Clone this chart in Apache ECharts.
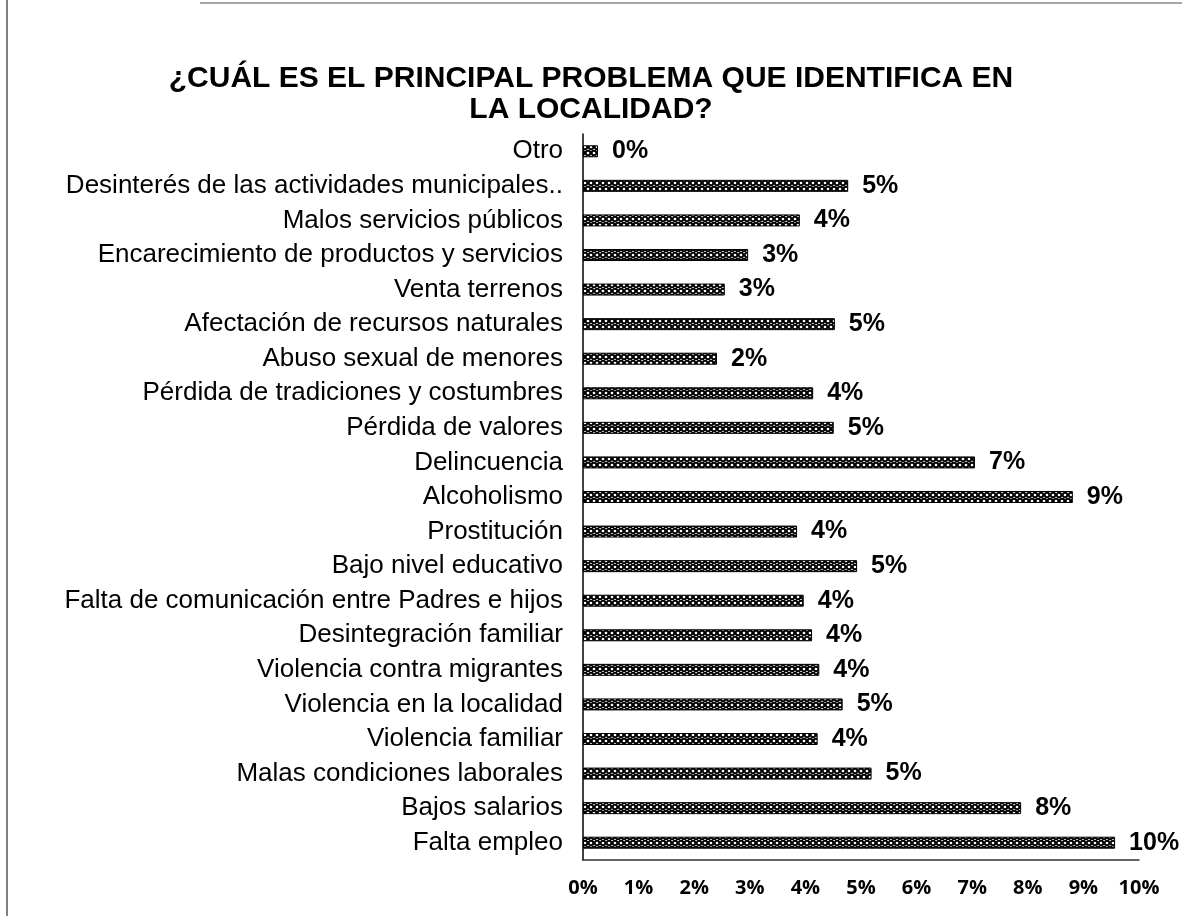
<!DOCTYPE html>
<html>
<head>
<meta charset="utf-8">
<title>Principal problema en la localidad</title>
<script src="https://cdn.jsdelivr.net/npm/echarts@6/dist/echarts.min.js"></script>
<style>
  html, body { margin: 0; padding: 0; background: #fff; }
  #main { width: 1182px; height: 916px; }
</style>
</head>
<body>
<div id="main"></div>
<script>
// categorias de arriba hacia abajo
var problemas = [
  "Otro",
  "Desinterés de las actividades municipales..",
  "Malos servicios públicos",
  "Encarecimiento de productos y servicios",
  "Venta terrenos",
  "Afectación de recursos naturales",
  "Abuso sexual de menores",
  "Pérdida de tradiciones y costumbres",
  "Pérdida de valores",
  "Delincuencia",
  "Alcoholismo",
  "Prostitución",
  "Bajo nivel educativo",
  "Falta de comunicación entre Padres e hijos",
  "Desintegración familiar",
  "Violencia contra migrantes",
  "Violencia en la localidad",
  "Violencia familiar",
  "Malas condiciones laborales",
  "Bajos salarios",
  "Falta empleo"
];
// porcentajes
var porcentajes = [0.27, 4.77, 3.90, 2.97, 2.55, 4.53, 2.41, 4.14, 4.51, 7.05, 8.81,
                   3.85, 4.93, 3.97, 4.12, 4.25, 4.67, 4.22, 5.19, 7.88, 9.57];
var ejeMin = 0;
var ejeMax = 10;
var ejeIntervalo = 1;

// trama tipo cadena para las barras
function makePattern () {
  var c = document.createElement("canvas");
  c.width = 6;
  c.height = 12;
  var ctx = c.getContext("2d");
  ctx.fillStyle = "#fff";
  ctx.fillRect(0, 0, 6, 12);
  ctx.strokeStyle = "#000";
  ctx.lineWidth = 1.9;
  [[3, 3], [0, 9], [6, 9]].forEach(function (p) {
    ctx.beginPath();
    ctx.arc(p[0], p[1], 2.3, 0, Math.PI * 2);
    ctx.stroke();
  });
  return c;
}

var chart = echarts.init(document.getElementById("main"));
chart.setOption({
  backgroundColor: "#fff",
  animation: false,
  title: {
    text: "¿CUÁL ES EL PRINCIPAL PROBLEMA QUE IDENTIFICA EN\nLA LOCALIDAD?",
    left: "center",
    top: 58,
    textStyle: {
      fontFamily: "Liberation Sans",
      fontWeight: "bold",
      fontSize: 30,
      lineHeight: 31,
      color: "#000"
    }
  },
  grid: {
    left: 583,
    right: 43,
    top: 134,
    bottom: 56
  },
  xAxis: {
    type: "value",
    min: ejeMin,
    max: ejeMax,
    interval: ejeIntervalo,
    splitLine: { show: false },
    axisLine: { show: true, lineStyle: { color: "#333", width: 1.5 } },
    axisTick: { show: false },
    axisLabel: {
      formatter: "{value}%",
      margin: 18,
      fontFamily: "Open Sans",
      fontWeight: "bold",
      fontSize: 20,
      color: "#000"
    }
  },
  yAxis: {
    type: "category",
    inverse: true,
    data: problemas,
    axisLine: { show: true, lineStyle: { color: "#000", width: 1.5 } },
    axisTick: { show: false },
    axisLabel: {
      margin: 20,
      fontFamily: "Liberation Sans",
      fontSize: 26,
      color: "#000"
    }
  },
  series: [{
    type: "bar",
    data: porcentajes,
    barWidth: 12,
    itemStyle: {
      color: { image: makePattern(), repeat: "repeat" },
      borderColor: "#000",
      borderWidth: 1
    },
    label: {
      show: true,
      position: "right",
      distance: 14,
      formatter: function (p) { return Math.round(p.value) + "%"; },
      fontFamily: "Liberation Sans",
      fontWeight: "bold",
      fontSize: 25,
      color: "#000"
    }
  }],
  // marco del recorte original
  graphic: [
    { type: "line", shape: { x1: 7, y1: 0, x2: 7, y2: 916 }, style: { stroke: "#555", lineWidth: 1.5 } },
    { type: "line", shape: { x1: 200, y1: 3, x2: 1182, y2: 3 }, style: { stroke: "#888", lineWidth: 1.5 } }
  ]
});
</script>
</body>
</html>
